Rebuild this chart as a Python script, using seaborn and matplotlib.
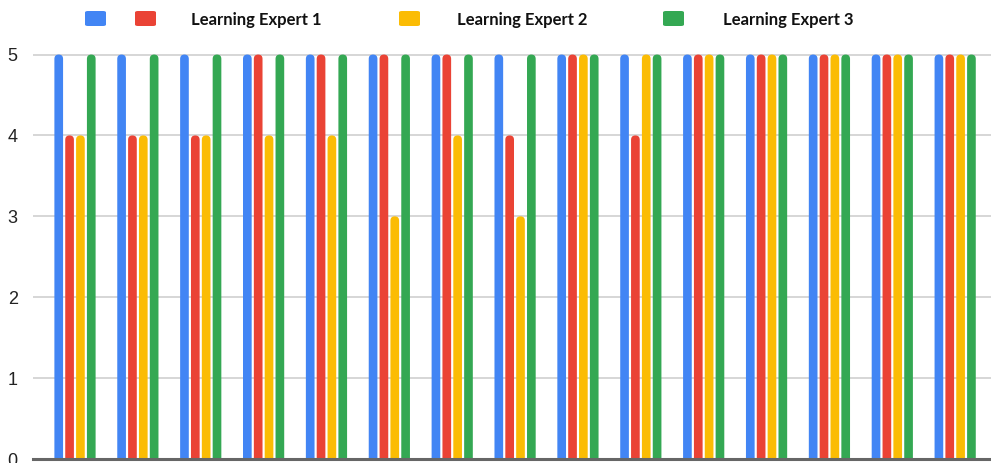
import pandas as pd
import matplotlib
matplotlib.use('Agg')
import matplotlib.pyplot as plt
import seaborn as sns
from matplotlib.patches import FancyBboxPatch

# Datos (15 grupos, 4 series)
grupos = [f'G{i}' for i in range(1, 16)]
series = ['S0', 'S1', 'S2', 'S3']
etiquetas = ['', 'Learning Expert 1', 'Learning Expert 2', 'Learning Expert 3']
azul = [5, 5, 5, 5, 5, 5, 5, 5, 5, 5, 5, 5, 5, 5, 5]
rojo = [4, 4, 4, 5, 5, 5, 5, 4, 5, 4, 5, 5, 5, 5, 5]
amarillo = [4, 4, 4, 4, 4, 3, 4, 3, 5, 5, 5, 5, 5, 5, 5]
verde = [5, 5, 5, 5, 5, 5, 5, 5, 5, 5, 5, 5, 5, 5, 5]
colores = ['#4285F4', '#EA4335', '#FBBC04', '#34A853']

# Tabla larga para seaborn
filas = []
for s, vals in zip(series, [azul, rojo, amarillo, verde]):
    for g, v in zip(grupos, vals):
        filas.append({'grupo': g, 'serie': s, 'valor': v})
df = pd.DataFrame(filas)

sns.set_style('white')
plt.rcParams['font.family'] = ['Liberation Sans', 'DejaVu Sans']

fig = plt.figure(figsize=(9.91, 4.63), dpi=100)
ax = fig.add_axes([33 / 991, 4 / 463, 1 - 33 / 991, 408.5 / 463])

sns.barplot(data=df, x='grupo', y='valor', hue='serie', hue_order=series,
            palette=colores, width=0.69, gap=0.2, legend=False, ax=ax,
            saturation=1, errorbar=None)

ax.set_xlim(-0.668, 14.57)
ax.set_ylim(0, 5.05)

# Redondear la parte superior de las barras
ry = 0.053
for p in list(ax.patches):
    x, w, h = p.get_x(), p.get_width(), p.get_height()
    c = p.get_facecolor()
    p.remove()
    nueva = FancyBboxPatch((x, -ry), w, h + ry,
                           boxstyle=f'round,pad=0,rounding_size={w / 2}',
                           mutation_aspect=ry / (w / 2),
                           facecolor=c, edgecolor='none', zorder=3)
    ax.add_patch(nueva)

ax.set_xlabel('')
ax.set_ylabel('')
ax.set_xticks([])
ax.set_yticks([0, 1, 2, 3, 4, 5])
ax.tick_params(axis='y', length=0, pad=11, labelsize=13, labelcolor='#222222')
ax.yaxis.grid(True, color='#d3d3d3', linewidth=1.3)
ax.set_axisbelow(True)
for lado in ['top', 'right', 'left']:
    ax.spines[lado].set_visible(False)
ax.spines['bottom'].set_color('#666666')
ax.spines['bottom'].set_linewidth(2.2)
ax.spines['bottom'].set_zorder(5)

# Leyenda manual arriba
cuadros_x = [85, 135, 399, 663]
textos_x = [None, 191, 457, 723]
for c, cx, tx, et in zip(colores, cuadros_x, textos_x, etiquetas):
    fig.patches.append(FancyBboxPatch((cx / 991, 1 - 26 / 463), 21 / 991, 15 / 463,
                                      boxstyle='round,pad=0,rounding_size=0.003',
                                      transform=fig.transFigure, facecolor=c,
                                      edgecolor='none'))
    if et:
        fig.text(tx / 991, 1 - 20 / 463, et, fontsize=12, fontweight='bold',
                 family=['Lato', 'DejaVu Sans'], va='center', ha='left', color='#111111')

fig.savefig('out.png', dpi=100)
